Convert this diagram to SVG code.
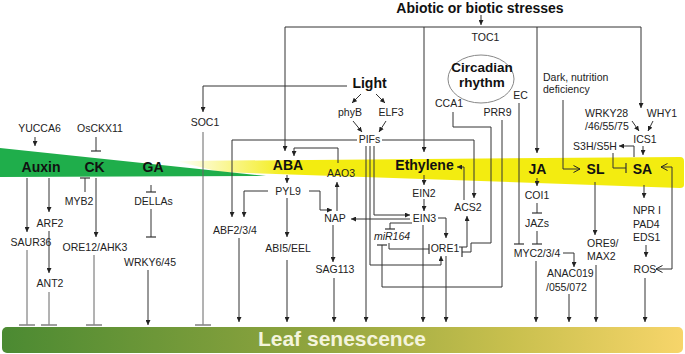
<svg xmlns="http://www.w3.org/2000/svg" width="685" height="354" viewBox="0 0 685 354">
<defs>
<linearGradient id="gBar" x1="0" y1="0" x2="1" y2="0">
<stop offset="0" stop-color="#4b8a32"/>
<stop offset="0.45" stop-color="#8fa43e"/>
<stop offset="0.75" stop-color="#c9c04e"/>
<stop offset="1" stop-color="#f7d56a"/>
</linearGradient>
<linearGradient id="gYel" gradientUnits="userSpaceOnUse" x1="176" y1="0" x2="290" y2="0">
<stop offset="0" stop-color="#f3ec10" stop-opacity="0"/>
<stop offset="1" stop-color="#f3ec10" stop-opacity="1"/>
</linearGradient>
<marker id="ar" viewBox="0 0 6 6" refX="6" refY="3" markerWidth="5" markerHeight="5" orient="auto" markerUnits="userSpaceOnUse">
<path d="M0,0 L6,3 L0,6 z" fill="#222"/>
</marker>
<marker id="op" viewBox="0 0 8 8" refX="7.5" refY="4" markerWidth="8" markerHeight="8" orient="auto-start-reverse" markerUnits="userSpaceOnUse">
<path d="M1,0.5 L7.5,4 L1,7.5" fill="none" stroke="#222" stroke-width="1"/>
</marker>
<marker id="tb" viewBox="0 0 2 10" refX="1" refY="5" markerWidth="2" markerHeight="10" orient="auto" markerUnits="userSpaceOnUse">
<path d="M1,0 V10" stroke="#333" stroke-width="1.2"/>
</marker>
<marker id="tbb" viewBox="0 0 2 16" refX="1" refY="8" markerWidth="2" markerHeight="16" orient="auto" markerUnits="userSpaceOnUse">
<path d="M1,0 V16" stroke="#888" stroke-width="1.6"/>
</marker>
</defs>
<style>
text{font-family:"Liberation Sans",Arial,sans-serif;fill:#222;}
.t{font-size:10.5px;}
.m{text-anchor:middle;}
.b{font-weight:bold;font-size:14px;fill:#111;}
.c path{fill:none;stroke:#333;stroke-width:1;}
.c .a{marker-end:url(#ar);}
.c .o{marker-end:url(#op);}
.c .i{marker-end:url(#tb);}
.c .ib{marker-end:url(#tbb);}
.c .g{stroke:#666;}
</style>

<g id="bands">
<path d="M176,161 L680,157 Q684,157 684,161 L684,185 Q684,188 680,188 L220,172 Z" fill="url(#gYel)"/>
<polygon points="0,148 266,176 0,177" fill="#1fae4b"/>
<rect x="2" y="327" width="681" height="26" rx="5" fill="url(#gBar)"/>
</g>

<g id="connectors" class="c">
<path class="a" d="M481,15 V25"/>
<path d="M285,27 H641"/>
<path class="a" d="M285,27 V151"/>
<path class="a" d="M424,27 V152"/>
<path class="a" d="M537,27 V153"/>
<path class="a" d="M641,27 V108"/>
<path class="a" d="M347,86 H203 V112"/>
<path class="a" d="M361,94 L352,103"/>
<path class="a" d="M376,94 L385,103"/>
<path class="a" d="M353,121 L362,132"/>
<path class="a" d="M386,121 L379,132"/>
<path class="a" d="M357,140 H232 V217"/>
<path class="a" d="M382,140 H474 V198"/>
<path class="a" d="M366,146 V322"/>
<path class="a" d="M370,146 V265 H441 V256"/>
<path class="a" d="M374,146 V215 H410"/>
<path class="a" d="M410,219 H351"/>
<path class="i" d="M412,223 H390 V229"/>
<path class="i" d="M389,243 V249 H429"/>
<path class="i" d="M502,120 V287 H382 V245"/>
<path class="a" d="M438,218 H446 V238"/>
<path class="a" d="M446,256 V322"/>
<path class="a" d="M423,225 V322"/>
<path class="a" d="M459,247 H467 V216"/>
<path class="i" d="M453,112 V127 H491 V243 H471 V252 H462"/>
<path class="a" d="M464,200 V167 H457"/>
<path class="a" d="M424,175 V185"/>
<path class="a" d="M424,199 V211"/>
<path class="i" d="M519,103 V244"/>
<path class="o" d="M563,100 V169 H580"/>
<path class="a" d="M537,178 V186"/>
<path class="i" d="M537,203 V213"/>
<path class="i" d="M537,231 V244"/>
<path class="a" d="M536,261 V322"/>
<path class="a" d="M563,253 H574 V267"/>
<path class="a" d="M569,294 V322"/>
<path class="a" d="M595,182 V235"/>
<path class="a" d="M596,265 V322"/>
<path class="a" d="M632,121 L639,131"/>
<path class="a" d="M653,121 L648,131"/>
<path class="a" d="M643,146 V155"/>
<path class="a" d="M634,157 V146 H619"/>
<path class="i" d="M613,153 V168 H626"/>
<path class="a" d="M644,185 V198"/>
<path class="a" d="M646,245 V257"/>
<path class="o" style="marker-start:url(#op)" d="M656,269 H672 V167 H661"/>
<path class="a" d="M645,278 V322"/>
<path class="a" d="M35,137 V146"/>
<path class="i" d="M96,137 V151"/>
<path class="i" d="M85,192 V178"/>
<path class="a" d="M96,178 V237"/>
<path class="a" d="M27,178 V232"/>
<path class="a" d="M49,178 V212"/>
<path class="a" d="M49,231 V273"/>
<path class="ib g" d="M27,250 V325"/>
<path class="ib g" d="M49,292 V325"/>
<path class="ib g" d="M94,255 V325"/>
<path class="i" d="M151,185 V192"/>
<path class="i" d="M151,209 V237"/>
<path class="a" d="M148,270 V325"/>
<path class="ib g" d="M203,132 V325"/>
<path class="a" d="M338,163 V148 H294 V156"/>
<path class="a" d="M287,175 V183"/>
<path class="a" d="M268,191 H244 V217"/>
<path class="a" d="M309,191 H320 V210 H332"/>
<path class="a" d="M337,211 V182"/>
<path class="a" d="M287,198 V237"/>
<path class="a" d="M287,260 V322"/>
<path class="a" d="M333,225 V262"/>
<path class="a" d="M334,278 V322"/>
<path class="a" d="M239,238 V322"/>
</g>

<g id="stress"><text class="b m" x="480" y="13">Abiotic or biotic stresses</text></g>
<g id="light"><text class="b m" x="369.5" y="88">Light</text></g>
<g id="phyB"><text class="t m" x="350" y="116">phyB</text></g>
<g id="ELF3"><text class="t m" x="391" y="116">ELF3</text></g>
<g id="PIFs"><text class="t m" x="369.5" y="143">PIFs</text></g>
<g id="circadian">
<ellipse cx="481" cy="79" rx="33" ry="24" fill="none" stroke="#888" stroke-width="1"/>
<text class="b m" style="font-size:13.5px" x="482" y="72">Circadian</text>
<text class="b m" style="font-size:13.5px" x="482" y="87">rhythm</text>
</g>
<g id="TOC1"><text class="t m" x="485.5" y="41">TOC1</text></g>
<g id="CCA1"><text class="t m" x="449" y="107">CCA1</text></g>
<g id="PRR9"><text class="t m" x="497.5" y="116">PRR9</text></g>
<g id="EC"><text class="t m" x="520.5" y="99">EC</text></g>
<g id="dark"><text class="t" x="543" y="81">Dark, nutrition</text><text class="t" x="543" y="93">deficiency</text></g>
<g id="WRKY28"><text class="t" x="585" y="117">WRKY28</text><text class="t" x="585" y="130">/46/55/75</text></g>
<g id="WHY1"><text class="t m" x="662" y="117">WHY1</text></g>
<g id="ICS1"><text class="t m" x="645" y="143">ICS1</text></g>
<g id="S3H"><text class="t m" x="595" y="150">S3H/S5H</text></g>
<g id="YUCCA6"><text class="t m" x="39.5" y="132">YUCCA6</text></g>
<g id="OsCKX11"><text class="t m" x="100" y="132">OsCKX11</text></g>
<g id="SOC1"><text class="t m" x="205" y="126">SOC1</text></g>
<g id="Auxin"><text class="b m" x="41" y="172">Auxin</text></g>
<g id="CK"><text class="b m" x="94.5" y="172">CK</text></g>
<g id="GA"><text class="b m" x="153" y="172">GA</text></g>
<g id="ABA"><text class="b m" x="288" y="170">ABA</text></g>
<g id="Ethylene"><text class="b m" x="424.5" y="170">Ethylene</text></g>
<g id="JA"><text class="b m" x="537.5" y="174">JA</text></g>
<g id="SL"><text class="b m" x="595.5" y="174">SL</text></g>
<g id="SA"><text class="b m" x="642.5" y="174">SA</text></g>
<g id="MYB2"><text class="t m" x="79" y="205">MYB2</text></g>
<g id="DELLAs"><text class="t m" x="153.5" y="205">DELLAs</text></g>
<g id="ARF2"><text class="t m" x="50" y="227">ARF2</text></g>
<g id="SAUR36"><text class="t m" x="31" y="246">SAUR36</text></g>
<g id="ORE12"><text class="t m" x="95" y="251">ORE12/AHK3</text></g>
<g id="ANT2"><text class="t m" x="50" y="287">ANT2</text></g>
<g id="WRKY6"><text class="t m" x="150" y="266">WRKY6/45</text></g>
<g id="AAO3"><text class="t m" x="341" y="177">AAO3</text></g>
<g id="PYL9"><text class="t m" x="288" y="195">PYL9</text></g>
<g id="NAP"><text class="t m" x="335" y="222">NAP</text></g>
<g id="ABF"><text class="t m" x="235" y="234">ABF2/3/4</text></g>
<g id="ABI5"><text class="t m" x="288" y="252">ABI5/EEL</text></g>
<g id="SAG113"><text class="t m" x="335" y="273">SAG113</text></g>
<g id="EIN2"><text class="t m" x="424" y="197">EIN2</text></g>
<g id="EIN3"><text class="t m" x="424.5" y="222">EIN3</text></g>
<g id="ACS2"><text class="t m" x="468" y="211">ACS2</text></g>
<g id="miR164"><text class="t m" style="font-style:italic" x="392" y="240">miR164</text></g>
<g id="ORE1"><text class="t m" x="445" y="252">ORE1</text></g>
<g id="COI1"><text class="t m" x="537" y="199">COI1</text></g>
<g id="JAZs"><text class="t m" x="537" y="227">JAZs</text></g>
<g id="MYC"><text class="t m" x="537" y="257">MYC2/3/4</text></g>
<g id="ANAC"><text class="t" x="547" y="277">ANAC019</text><text class="t" x="546" y="291">/055/072</text></g>
<g id="ORE9"><text class="t" x="587" y="247">ORE9/</text><text class="t" x="587" y="260">MAX2</text></g>
<g id="NPR"><text class="t" x="633" y="214">NPR I</text><text class="t" x="633" y="228">PAD4</text><text class="t" x="633" y="241">EDS1</text></g>
<g id="ROS"><text class="t m" x="645" y="273">ROS</text></g>
<g id="senescence"><text class="m" x="342" y="346" style="font-weight:bold;font-size:21px;fill:#f4f4dc">Leaf senescence</text></g>
</svg>
